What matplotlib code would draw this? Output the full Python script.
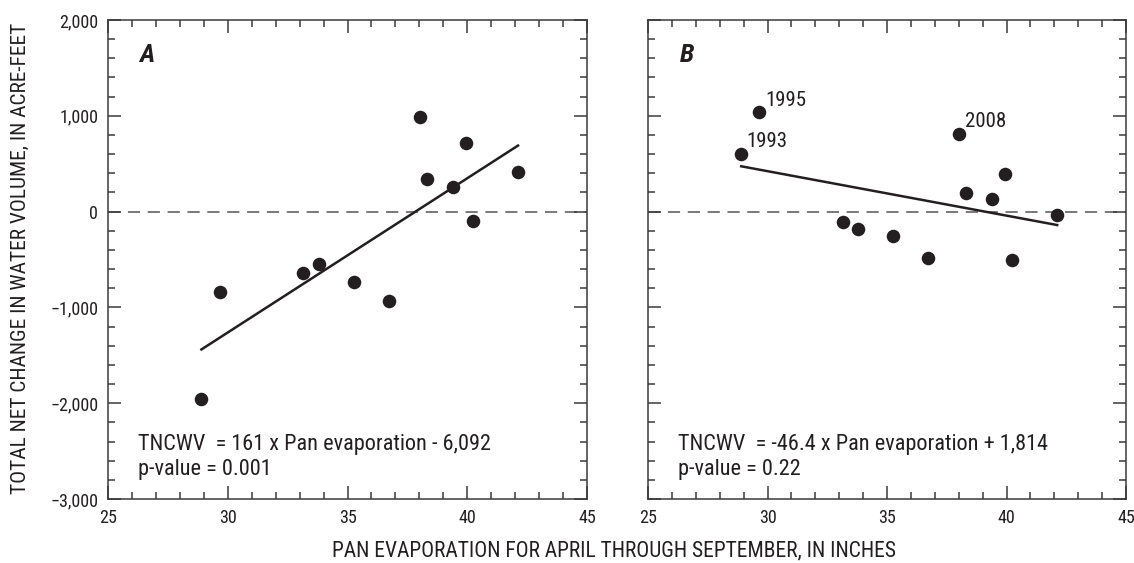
import matplotlib
matplotlib.use("Agg")
import matplotlib.pyplot as plt
from matplotlib.ticker import MultipleLocator, FuncFormatter
import numpy as np

plt.rcParams['font.family'] = ['Liberation Sans Narrow', 'Roboto Condensed', 'DejaVu Sans']
plt.rcParams['font.stretch'] = 'condensed'

# Data
pan_evap = [28.9, 29.66, 33.15, 33.8, 35.27, 36.72, 38.03, 38.3, 39.4, 39.93, 40.24, 42.12]
tncwv_a = [-1955, -841, -643, -550, -737, -932, 984, 341, 261, 713, -94, 417]
tncwv_b = [604, 1035, -104, -177, -250, -486, 812, 191, 135, 392, -500, -35]
slope_a, icpt_a = 161, -6092
slope_b, icpt_b = -46.4, 1814
labels_b = {1: "1995", 0: "1993", 6: "2008"}
eq_a = ["TNCWV  = 161 x Pan evaporation - 6,092", "p-value = 0.001"]
eq_b = ["TNCWV  = -46.4 x Pan evaporation + 1,814", "p-value = 0.22"]

INK = '#231f20'
AX = '#3a3a3a'

fig = plt.figure(figsize=(11.34, 5.63), dpi=100)
axA = fig.add_axes([108/1134, 64/563, 479/1134, 479/563])
axB = fig.add_axes([648/1134, 64/563, 478/1134, 479/563])

def fmt(v, pos):
    s = f"{abs(int(round(v))):,}"
    return ("\u2212" + s) if v < 0 else s

def style(ax, show_ylabels):
    ax.set_xlim(25, 45)
    ax.set_ylim(-3000, 2000)
    ax.xaxis.set_major_locator(MultipleLocator(5))
    ax.xaxis.set_minor_locator(MultipleLocator(1))
    ax.yaxis.set_major_locator(MultipleLocator(1000))
    ax.yaxis.set_minor_locator(MultipleLocator(200))
    ax.yaxis.set_major_formatter(FuncFormatter(fmt))
    ax.tick_params(which='both', direction='in', top=True, right=True,
                   color=AX, width=1.1, labelcolor=INK, labelsize=13, pad=7)
    ax.tick_params(which='major', length=9.5)
    ax.tick_params(which='minor', length=5.2)
    if not show_ylabels:
        ax.tick_params(axis='y', labelleft=False)
    for sp in ax.spines.values():
        sp.set_color(AX)
        sp.set_linewidth(1.1)
    ax.axhline(0, color='#555555', lw=1.1, dashes=(8, 5), zorder=1)

style(axA, True)
style(axB, False)

xs = np.array([min(pan_evap), max(pan_evap)])
for ax, ys, sl, ic, letter, eq in [(axA, tncwv_a, slope_a, icpt_a, 'A', eq_a),
                                   (axB, tncwv_b, slope_b, icpt_b, 'B', eq_b)]:
    ax.scatter(pan_evap, ys, s=95, color=INK, zorder=3, linewidths=0)
    ax.plot(xs, sl * xs + ic, color=INK, lw=1.8, zorder=2)
    ax.text(0.066, 0.927, letter, transform=ax.transAxes, fontsize=19,
            fontweight='heavy', fontstyle='italic', color=INK, va='center', ha='left')
    ax.text(0.062, 0.114, eq[0], transform=ax.transAxes, fontsize=16,
            color=INK, va='center', ha='left')
    ax.text(0.062, 0.062, eq[1], transform=ax.transAxes, fontsize=16,
            color=INK, va='center', ha='left')

for i, lab in labels_b.items():
    axB.annotate(lab, (pan_evap[i], tncwv_b[i]), xytext=(4, 2),
                 textcoords='offset points', fontsize=15, color=INK,
                 ha='left', va='bottom')

fig.text(614/1134, 1 - 551/563, "PAN EVAPORATION FOR APRIL THROUGH SEPTEMBER, IN INCHES",
         ha='center', va='center', fontsize=15.5, color=INK)
fig.text(20/1134, 1 - 258/563, "TOTAL NET CHANGE IN WATER VOLUME, IN ACRE-FEET",
         ha='center', va='center', rotation=90, fontsize=15.4, color=INK)

fig.savefig("out.png", dpi=100)
